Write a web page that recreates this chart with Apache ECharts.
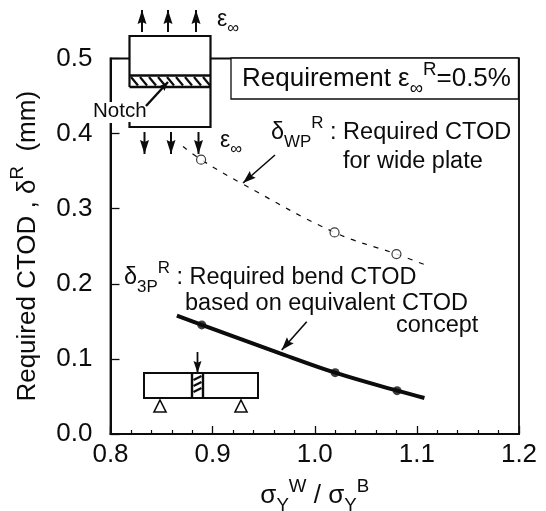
<!DOCTYPE html>
<html><head><meta charset="utf-8">
<style>html,body{margin:0;padding:0;background:#fff}#c{width:546px;height:511px}</style>
<script src="https://cdn.jsdelivr.net/npm/echarts@6/dist/echarts.min.js"></script>
</head><body><div id="c"></div>
<script>
const wideCurve = [[0.871,0.3827],[0.8887,0.3653],[0.9286,0.3335],[1.0194,0.2684],[1.08,0.2396],[1.108,0.2253]];
const widePoints = [[0.8887,0.3653],[1.0194,0.2684],[1.08,0.2396]];
const bendCurve = [[0.865,0.1577],[0.8894,0.1453],[0.966,0.1075],[1.02,0.0817],[1.0806,0.0577],[1.1074,0.048]];
const bendPoints = [[0.8894,0.1453],[1.02,0.0817],[1.0806,0.0577]];
const xRange = [0.8,1.2], yRange = [0,0.5];
const INK='#0c0c0c', FONT='"Liberation Sans",Arial,sans-serif';
const base={fontFamily:FONT,color:INK};
const rich=(s)=>({
  m:{...base,fontSize:s,lineHeight:s+12,verticalAlign:'middle'},
  g:{...base,fontSize:s,lineHeight:s+12,verticalAlign:'middle'},
  u:{...base,fontSize:s*0.72,lineHeight:s*0.72,verticalAlign:'top'},
  d:{...base,fontSize:s*0.72,lineHeight:s*0.72,verticalAlign:'bottom'}
});
function T(x,y,text,size){return {type:'text',z:20,silent:true,style:{x,y,text,font:size+'px '+FONT,fill:INK,rich:rich(size)}};}
function L(pts,w,c){return {type:'polyline',z:15,silent:true,shape:{points:pts},style:{stroke:c||INK,lineWidth:w||2,fill:null}};}
function head(x,y,dx,dy,len,hw){
  const n=Math.hypot(dx,dy);dx/=n;dy/=n;
  return {type:'polygon',z:16,silent:true,shape:{points:[[x,y],[x-dx*len-dy*hw,y-dy*len+dx*hw],[x-dx*len*0.85,y-dy*len*0.85],[x-dx*len+dy*hw,y-dy*len-dx*hw]]},style:{fill:INK}};
}
function arrow(x0,y0,x1,y1,w,len,hw){return [L([[x0,y0],[x1,y1]],w),head(x1,y1,x1-x0,y1-y0,len,hw)];}
const g=[];
g.push({type:'rect',z:12,silent:true,shape:{x:93,y:102,width:54,height:21},style:{fill:'#fff'}});
g.push({type:'rect',z:13,silent:true,shape:{x:231,y:58,width:287.5,height:41},style:{fill:'#fff',stroke:INK,lineWidth:1.3}});
g.push({type:'rect',z:14,silent:true,shape:{x:129.5,y:36,width:81,height:91},style:{fill:'#fff'}});
g.push(L([[129.5,87],[129.5,36],[210.5,36],[210.5,127],[129.5,127],[129.5,122]],2.2));
for(let x=131;x<208;x+=9){g.push(L([[x,77],[x+7,85.5]],2.2));}
g.push(L([[129.5,75.5],[210.5,75.5]],2.4),L([[129.5,87],[210.5,87]],2.4));
g.push(...arrow(146,106,168,82,2.4,9,3.5));
[142,168,196].forEach(x=>g.push(...arrow(x,32,x,10,2,14,4.5)));
[144.5,171,198.5].forEach(x=>g.push(...arrow(x,132,x,154,2,14,4.5)));
g.push({type:'rect',z:14,silent:true,shape:{x:144,y:373,width:114,height:25},style:{fill:'#fff',stroke:INK,lineWidth:2}});
for(let y=376;y<394;y+=6){g.push(L([[193.5,y+4],[201.5,y]],2.2));}
g.push(L([[192,373],[192,398]],2.4),L([[203,373],[203,398]],2.4));
g.push(...arrow(197.5,352,197.5,373,1.8,12,4));
[160,241].forEach(x=>g.push({type:'polygon',z:15,silent:true,shape:{points:[[x,400],[x+6,412],[x-6,412]]},style:{fill:'#fff',stroke:INK,lineWidth:1.6}}));
g.push(...arrow(275,155,243,183,1.6,13,4.5));
g.push(...arrow(306.7,321.7,281.7,350,1.6,13,4.5));
g.push(T(93,101,'Notch',20.5));
g.push(T(217,2,'{m|ε}{d|∞}',23));
g.push(T(220,123,'{m|ε}{d|∞}',23));
g.push(T(242,60,'{m|Requirement ε}{d|∞}{u|R}{m|=0.5%}',26));
g.push(T(271,115,'{m|δ}{d|WP}{u|R}{m| : Required CTOD}',23.5));
g.push(T(343,150,'for wide plate',23.5));
g.push(T(124,260,'{m|δ}{d|3P}{u|R}{m| : Required bend CTOD}',23.5));
g.push(T(185,292,'based on equivalent CTOD',23.5));
g.push(T(396,314,'concept',23.5));

const chart=echarts.init(document.getElementById('c'),null,{renderer:'canvas'});
chart.setOption({
  animation:false,backgroundColor:'#fff',
  grid:{left:110.5,right:27,top:58.5,bottom:77,outerBoundsMode:'none',show:true,borderColor:INK,borderWidth:1.8,backgroundColor:'transparent'},
  xAxis:{type:'value',min:xRange[0],max:xRange[1],interval:0.1,
    name:'{g|σ}{d|Y}{u|W}{m| / σ}{d|Y}{u|B}',nameLocation:'middle',nameGap:43,
    nameTextStyle:{rich:rich(26)},
    axisLine:{show:true,lineStyle:{color:INK,width:2}},
    axisTick:{show:true,inside:true,length:8,lineStyle:{color:INK,width:1.3}},
    minorTick:{show:true,splitNumber:5,length:4,lineStyle:{color:INK,width:1.2}},
    splitLine:{show:false},
    axisLabel:{margin:8,fontFamily:FONT,fontSize:26,color:INK,formatter:v=>v.toFixed(1)}},
  yAxis:{type:'value',min:yRange[0],max:yRange[1],interval:0.1,
    name:'{m|Required CTOD , δ}{u|R}{m|  (mm)}',nameLocation:'middle',nameRotate:90,nameGap:64,
    nameTextStyle:{rich:rich(26)},
    axisLine:{show:true,lineStyle:{color:INK,width:2}},
    axisTick:{show:true,inside:true,length:9,lineStyle:{color:INK,width:1.3}},
    splitLine:{show:false},
    axisLabel:{margin:18,fontFamily:FONT,fontSize:26,color:INK,formatter:v=>v.toFixed(1)}},
  series:[
    {type:'line',name:'wide curve',data:wideCurve,smooth:0.4,showSymbol:false,z:3,lineStyle:{color:INK,width:1.2,type:[5,7]}},
    {type:'scatter',name:'wide plate',data:widePoints,symbol:'circle',symbolSize:9,z:4,itemStyle:{color:'#fff',borderColor:INK,borderWidth:1.2}},
    {type:'line',name:'bend curve',data:bendCurve,smooth:0.4,showSymbol:false,z:3,lineStyle:{color:INK,width:4}},
    {type:'scatter',name:'bend',data:bendPoints,symbol:'circle',symbolSize:9,z:4,itemStyle:{color:INK}}
  ],
  graphic:{elements:g}
});
</script></body></html>
